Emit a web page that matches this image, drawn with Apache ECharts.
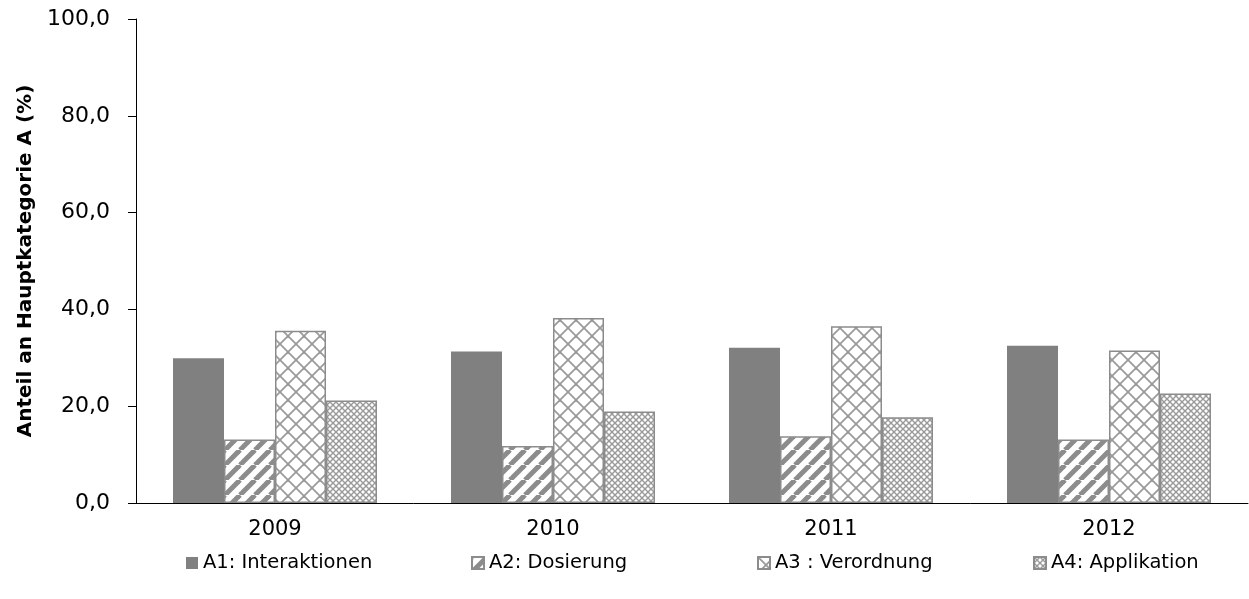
<!DOCTYPE html>
<html>
<head>
<meta charset="utf-8">
<script src="https://cdn.jsdelivr.net/npm/echarts@6/dist/echarts.min.js"></script>
<style>
html,body{margin:0;padding:0;background:#fff;}
#chart{width:1249px;height:599px;}
</style>
</head>
<body>
<div id="chart"></div>
<script>
const categories = ['2009', '2010', '2011', '2012'];
const seriesNames = ['A1: Interaktionen', 'A2: Dosierung', 'A3 : Verordnung', 'A4: Applikation'];
const a1 = [29.9, 31.3, 32.1, 32.5];
const a2 = [13.1, 11.8, 13.8, 13.1];
const a3 = [35.6, 38.2, 36.5, 31.5];
const a4 = [21.2, 18.9, 17.7, 22.6];
const yTicks = [0, 20, 40, 60, 80, 100];
const yAxisName = 'Anteil an Hauptkategorie A (%)';

function stripes() {
  const s = 15, c = document.createElement('canvas');
  c.width = s; c.height = s;
  const g = c.getContext('2d');
  g.fillStyle = '#fff'; g.fillRect(0, 0, s, s);
  g.strokeStyle = '#8c8c8c'; g.lineWidth = 5;
  for (let k = -1; k <= 1; k++) {
    g.beginPath();
    g.moveTo(k * s, s); g.lineTo(k * s + s, 0); g.stroke();
  }
  return c;
}
function crosshatch() {
  const s = 16, c = document.createElement('canvas');
  c.width = s; c.height = s;
  const g = c.getContext('2d');
  g.fillStyle = '#fff'; g.fillRect(0, 0, s, s);
  g.strokeStyle = '#9a9a9a'; g.lineWidth = 1.8;
  for (let k = -1; k <= 1; k++) {
    g.beginPath(); g.moveTo(k * s, s); g.lineTo(k * s + s, 0); g.stroke();
    g.beginPath(); g.moveTo(k * s, 0); g.lineTo(k * s + s, s); g.stroke();
  }
  return c;
}
function checker() {
  const s = 6, c = document.createElement('canvas');
  c.width = s; c.height = s;
  const g = c.getContext('2d');
  g.fillStyle = '#fff'; g.fillRect(0, 0, s, s);
  g.strokeStyle = '#9a9a9a'; g.lineWidth = 1.4;
  for (let k = -1; k <= 1; k++) {
    g.beginPath(); g.moveTo(k * s, s); g.lineTo(k * s + s, 0); g.stroke();
    g.beginPath(); g.moveTo(k * s, 0); g.lineTo(k * s + s, s); g.stroke();
  }
  return c;
}

const fills = [
  '#808080',
  { image: stripes(), repeat: 'repeat' },
  { image: crosshatch(), repeat: 'repeat' },
  { image: checker(), repeat: 'repeat' }
];
const borders = ['#808080', '#8c8c8c', '#8c8c8c', '#8c8c8c'];
const values = [a1, a2, a3, a4];
const font = 'DejaVu Sans, Verdana, sans-serif';
const legendLeft = [186, 471, 757, 1033];

const chart = echarts.init(document.getElementById('chart'), null, { renderer: 'canvas' });
chart.setOption({
  animation: false,
  backgroundColor: '#fff',
  grid: { left: 136, right: 1, top: 19, bottom: 96, containLabel: false },
  legend: seriesNames.map((n, i) => ({
    data: [{ name: n, icon: 'rect' }],
    left: legendLeft[i],
    top: 553,
    itemWidth: 12,
    itemHeight: 12,
    itemGap: 5,
    padding: 0,
    textStyle: { fontFamily: font, fontSize: 19.5, color: '#000', padding: [0, 0, 0, 0] }
  })),
  xAxis: {
    type: 'category',
    data: categories,
    axisLine: { lineStyle: { color: '#000', width: 1 } },
    axisTick: { show: false },
    axisLabel: { fontFamily: font, fontSize: 21, color: '#000', margin: 16 }
  },
  yAxis: {
    type: 'value',
    min: 0, max: 100, interval: 20,
    name: yAxisName,
    nameLocation: 'middle',
    nameGap: 98,
    nameTextStyle: { fontFamily: font, fontSize: 20, fontWeight: 'bold', color: '#000' },
    axisLine: { show: true, lineStyle: { color: '#000', width: 1 } },
    axisTick: { show: true, length: 8, lineStyle: { color: '#000' } },
    splitLine: { show: false },
    axisLabel: {
      fontFamily: font, fontSize: 22, color: '#000', margin: 26,
      formatter: v => yTicks.includes(v) ? v.toFixed(1).replace('.', ',') : ''
    }
  },
  series: seriesNames.map((n, i) => ({
    name: n,
    type: 'bar',
    data: values[i],
    barWidth: 51,
    barGap: '0%',
    itemStyle: { color: fills[i], borderColor: borders[i], borderWidth: i === 0 ? 0 : 1.5 }
  }))
});
</script>
</body>
</html>
